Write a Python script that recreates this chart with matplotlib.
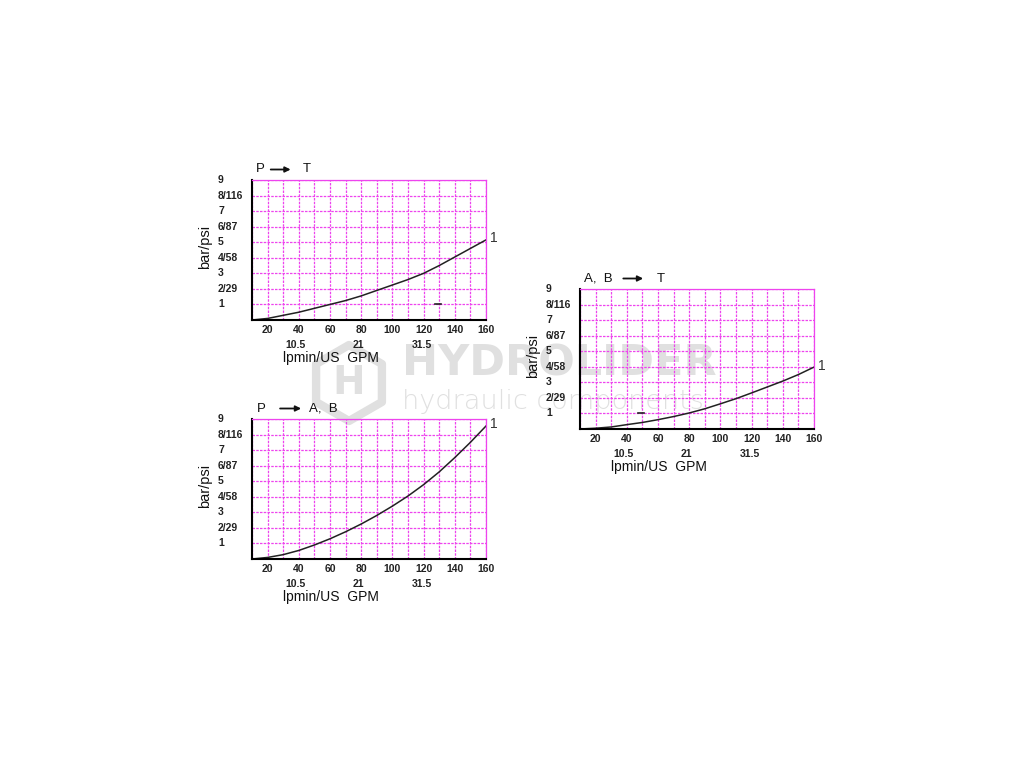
import matplotlib
matplotlib.use("Agg")
import matplotlib.pyplot as plt
from matplotlib.patches import RegularPolygon

plt.rcParams['font.family'] = ['Liberation Sans', 'DejaVu Sans']

# ---- data ----
flow_lpm = [10, 20, 30, 40, 50, 60, 70, 80, 90, 100, 110, 120, 130, 140, 150, 160]
dp_p_t = [0, 0.1, 0.3, 0.5, 0.75, 1.0, 1.25, 1.55, 1.9, 2.25, 2.6, 3.0, 3.5, 4.05, 4.6, 5.15]
dp_p_ab = [0, 0.1, 0.28, 0.55, 0.9, 1.3, 1.75, 2.25, 2.8, 3.4, 4.05, 4.78, 5.6, 6.52, 7.5, 8.55]
dp_ab_t = [0, 0.05, 0.13, 0.28, 0.42, 0.6, 0.8, 1.03, 1.3, 1.62, 1.95, 2.32, 2.7, 3.08, 3.5, 3.98]

x_ticks = [20, 40, 60, 80, 100, 120, 140, 160]
y_ticks = [1, 2, 3, 4, 5, 6, 7, 8, 9]
y_tick_labels = ["1", "2/29", "3", "4/58", "5", "6/87", "7", "8/116", "9"]
gpm_labels = ["10.5", "21", "31.5"]
gpm_pos = [38, 78, 119]
dash_p_t = ([127, 131], [1.0, 1.0])
dash_ab_t = ([47, 51], [1.0, 1.0])

GRID = '#ee44ee'
WM = '#e0e0e0'

fig = plt.figure(figsize=(10.24, 7.68), dpi=100)
fig.patch.set_facecolor('white')

# ---- watermark (behind the charts) ----
fig.text(402 / 1024, 1 - 364 / 768, "HYDROLIDER", fontsize=31, fontweight='bold',
         family='DejaVu Sans', color=WM, ha='left', va='center', zorder=-5)
fig.text(402 / 1024, 1 - 401 / 768, "hydraulic components", fontsize=19.5,
         fontweight=200, family='DejaVu Sans', color=WM, ha='left', va='center',
         zorder=-5)
hexa = RegularPolygon((3.49, 7.68 - 3.83), numVertices=6, radius=0.38,
                      orientation=0.0, transform=fig.dpi_scale_trans, fill=False,
                      edgecolor=WM, lw=6, joinstyle='round', zorder=-5)
fig.patches.append(hexa)
fig.text(349 / 1024, 1 - 383 / 768, "H", fontsize=28, fontweight='bold',
         family='DejaVu Sans', color=WM, ha='center', va='center', zorder=-5)


def make_panel(rect, yvals, title_left, title_right, dash=None):
    ax = fig.add_axes(rect)
    ax.patch.set_alpha(0)
    ax.set_xlim(10, 160)
    ax.set_ylim(0, 9)
    ax.set_xticks(range(10, 161, 10))
    ax.set_yticks(range(0, 10, 1))
    ax.grid(True, color=GRID, linestyle=(0, (2, 1)), lw=0.9)
    ax.set_xticklabels([])
    ax.set_yticklabels([])
    ax.tick_params(length=0)
    for s in ['top', 'right']:
        ax.spines[s].set_color(GRID)
        ax.spines[s].set_linestyle((0, (2, 1)))
        ax.spines[s].set_linewidth(0.9)
    for s in ['left', 'bottom']:
        ax.spines[s].set_color('black')
        ax.spines[s].set_linewidth(1.5)
    ax.set_axisbelow(True)

    # tick labels
    for v in x_ticks:
        ax.text(v, -0.35, str(v), ha='center', va='top', fontsize=7.5,
                fontweight='bold', color='#222222', clip_on=False)
    for v, lab in zip(y_ticks, y_tick_labels):
        ax.text(-0.145, v / 9, lab, transform=ax.transAxes, ha='left', va='center',
                fontsize=7.5, fontweight='bold', color='#222222', clip_on=False)
    for v, lab in zip(gpm_pos, gpm_labels):
        ax.text(v, -1.3, lab, ha='center', va='top', fontsize=7.5,
                fontweight='bold', color='#222222', clip_on=False)
    ax.text(0.338, -0.22, "lpmin/US  GPM", transform=ax.transAxes, ha='center',
            va='top', fontsize=10, color='#111111', clip_on=False)
    ax.text(-0.2, 0.52, "bar/psi", transform=ax.transAxes, rotation=90,
            ha='center', va='center', fontsize=10.5, color='#111111', clip_on=False)

    # curve
    ax.plot(flow_lpm, yvals, color='#222222', lw=1.1, clip_on=False)
    ax.text(162.5, yvals[-1] + 0.1, "1", ha='left', va='center', fontsize=10,
            color='#333333', clip_on=False)
    if dash is not None:
        ax.plot(dash[0], dash[1], color='#222222', lw=1.2)

    # title with arrow
    ax.text(title_left[1], 1.075, title_left[0], transform=ax.transAxes, ha='left',
            va='center', fontsize=9.5, color='#111111')
    ax.annotate("", xy=(title_left[3], 1.075), xytext=(title_left[2], 1.075),
                xycoords='axes fraction', textcoords='axes fraction',
                arrowprops=dict(arrowstyle='-|>', color='#111111', lw=1.3,
                                mutation_scale=8, shrinkA=0, shrinkB=0))
    ax.text(title_right[1], 1.075, title_right[0], transform=ax.transAxes, ha='left',
            va='center', fontsize=9.5, color='#111111')
    return ax


W = 234 / 1024
H = 140 / 768

make_panel([252 / 1024, (768 - 320) / 768, W, H], dp_p_t,
           ("P", 0.015, 0.08, 0.165), ("T", 0.215, None), dash_p_t)
make_panel([252 / 1024, (768 - 559) / 768, W, H], dp_p_ab,
           ("P", 0.02, 0.12, 0.21), ("A,  B", 0.245, None))
make_panel([580 / 1024, (768 - 429) / 768, W, H], dp_ab_t,
           ("A,  B", 0.015, 0.185, 0.27), ("T", 0.33, None), dash_ab_t)

fig.savefig("out.png", dpi=100, facecolor='white')
